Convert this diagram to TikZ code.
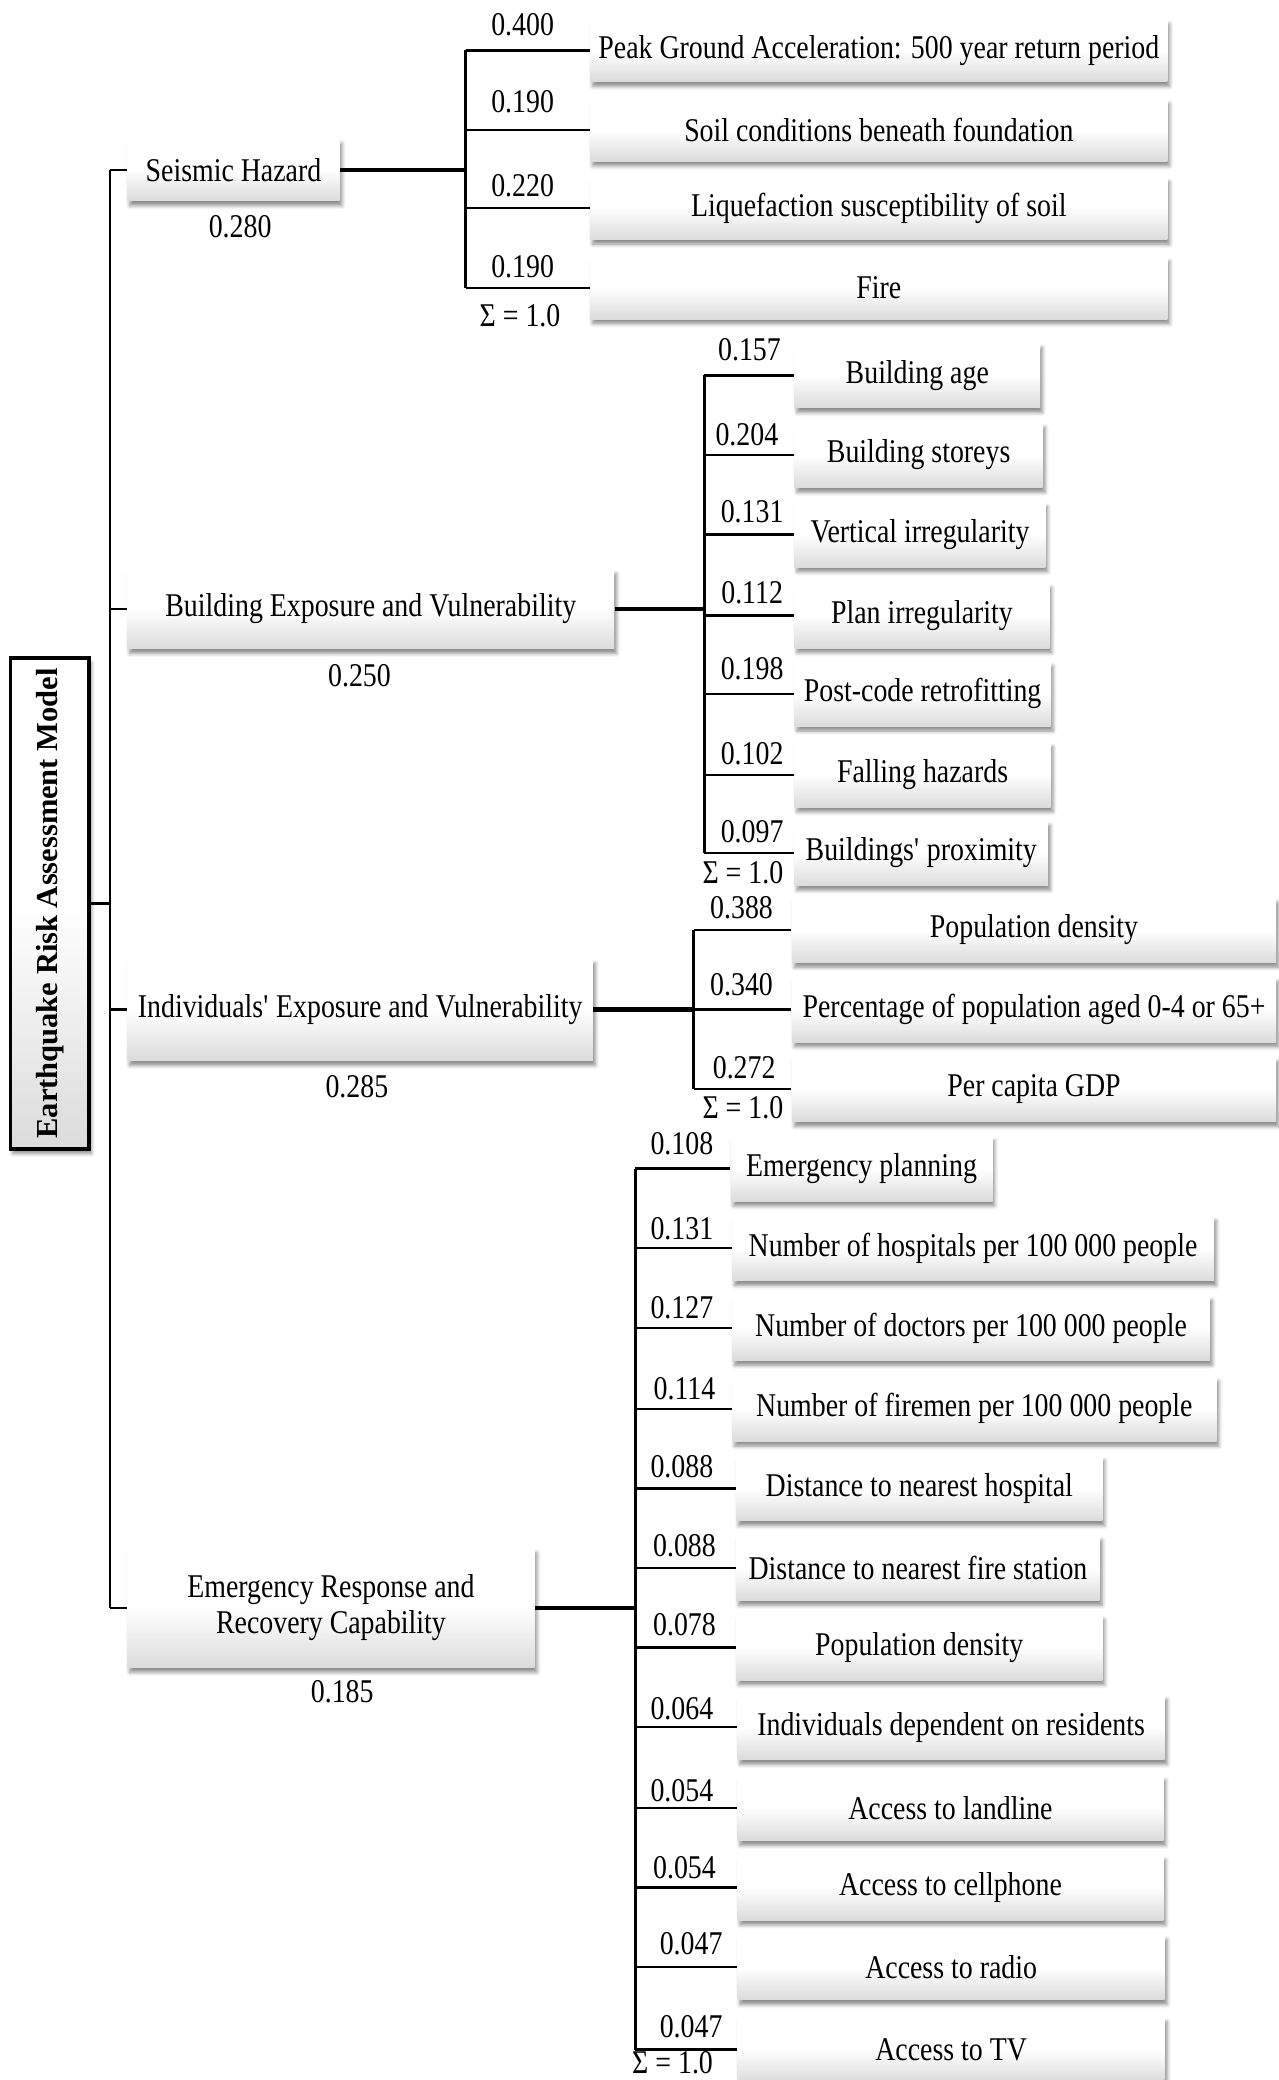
\documentclass[tikz,border=0pt]{standalone}
\usepackage{fontspec}
\setmainfont{Liberation Serif}[FakeStretch=0.84]
\newfontfamily\titlefont{Liberation Serif}
\usetikzlibrary{shadows.blur}
\newcommand\txt{\fontsize{12.5}{13.5}\selectfont}
% name, left x, centre y, right x, height, text
\newcommand\critbox[6]{%
  \node[box,minimum width={(#4-#2)*0.5pt},minimum height={#5*0.5pt}] (#1) at ({(#2+#4)/2},#3) {#6};}
\begin{document}
\begin{tikzpicture}[x=0.5pt,y=-0.5pt,
  box/.style={blur shadow={shadow xshift=0.9pt,shadow yshift=-1.8pt,shadow blur radius=1.4pt,shadow opacity=45},
    top color=white,bottom color=black!14,middle color=white,inner sep=0pt,font=\txt,align=center},
  titlebox/.style={box,draw=black,line width=1.4pt},
  wt/.style={font=\txt,inner sep=0pt},
  thinline/.style={line width=0.9pt},
  vline/.style={line width=1.1pt},
  mainline/.style={line width=1.6pt}]
\useasboundingbox (0,0) rectangle (964,1568);

% model title
\node[titlebox,minimum width=29.5pt,minimum height=185pt] (title) at (37.5,681)
  {\rotatebox{90}{\titlefont\fontsize{11.5}{12}\selectfont\bfseries Earthquake Risk Assessment Model}};

% criteria
\critbox{seis}{96}{128}{256}{47}{Seismic Hazard}
\critbox{build}{96}{459}{463}{60}{Building Exposure and Vulnerability}
\critbox{indiv}{96}{761}{447}{77}{Individuals\textquotesingle{} Exposure and Vulnerability}
\critbox{emer}{96}{1212}{403}{90}{Emergency Response and\\Recovery Capability}

\node[wt] (wseis) at (181,171) {0.280};
\node[wt] (wbuild) at (271,509) {0.250};
\node[wt] (windiv) at (269,819) {0.285};
\node[wt] (wemer) at (258,1275) {0.185};

% seismic hazard sub-criteria
\critbox{pga}{445}{38}{880}{47}{Peak Ground Acceleration: 500 year return period}
\critbox{soil}{445}{98}{880}{47}{Soil conditions beneath foundation}
\critbox{liq}{445}{157}{880}{47}{Liquefaction susceptibility of soil}
\critbox{fire}{445}{217}{880}{47}{Fire}

% building sub-criteria
\critbox{age}{599}{283}{784}{49}{Building age}
\critbox{storey}{599}{343}{786}{49}{Building storeys}
\critbox{vert}{599}{403}{788}{49}{Vertical irregularity}
\critbox{plan}{599}{464}{791}{49}{Plan irregularity}
\critbox{retro}{599}{523}{792}{49}{Post-code retrofitting}
\critbox{fall}{599}{584}{792}{49}{Falling hazards}
\critbox{prox}{599}{643}{790}{49}{Buildings\textquotesingle{} proximity}

% individuals sub-criteria
\critbox{pden}{597}{701}{962}{49}{Population density}
\critbox{aged}{597}{761}{962}{49}{Percentage of population aged 0-4 or 65+}
\critbox{gdp}{597}{821}{962}{49}{Per capita GDP}

% emergency sub-criteria
\critbox{eplan}{551}{881}{748}{49}{Emergency planning}
\critbox{hosp}{552}{941}{915}{49}{Number of hospitals per 100 000 people}
\critbox{doct}{552}{1001}{912}{49}{Number of doctors per 100 000 people}
\critbox{firem}{552}{1062}{917}{49}{Number of firemen per 100 000 people}
\critbox{dhosp}{555}{1122}{831}{49}{Distance to nearest hospital}
\critbox{dfire}{555}{1182}{829}{49}{Distance to nearest fire station}
\critbox{eden}{555}{1242}{831}{49}{Population density}
\critbox{dep}{556}{1302}{878}{49}{Individuals dependent on residents}
\critbox{land}{556}{1363}{877}{49}{Access to landline}
\critbox{cell}{556}{1423}{877}{49}{Access to cellphone}
\critbox{radio}{556}{1483}{878}{49}{Access to radio}
\critbox{tv}{556}{1545}{878}{49}{Access to TV}

% junction points
\coordinate (trunk) at (83,681);
\coordinate (g1) at (351,128);
\coordinate (g2) at (531,459);
\coordinate (g3) at (523,761);
\coordinate (g4) at (479,1212);

% main tree
\draw[thinline] (title.east) -- (trunk);
\draw[thinline] (trunk |- seis.west) -- (trunk |- emer.west);
\foreach \n in {seis,build,indiv,emer}
  \draw[thinline] (trunk |- \n.west) -- (\n.west);

% branches to the sub-criteria
\foreach \p/\g/\a/\b/\list in {seis/g1/pga/fire/{pga,soil,liq,fire},
    build/g2/age/prox/{age,storey,vert,plan,retro,fall,prox},
    indiv/g3/pden/gdp/{pden,aged,gdp},
    emer/g4/eplan/tv/{eplan,hosp,doct,firem,dhosp,dfire,eden,dep,land,cell,radio,tv}} {
  \draw[mainline] (\p.east) -- (\g);
  \draw[vline] (\g |- \a.west) -- (\g |- \b.west);
  \foreach \c in \list
    \draw[thinline] (\g |- \c.west) -- (\c.west);
}

% local weights
\foreach \v/\x/\y in {0.400/394/19,0.190/394/77,0.220/394/140,0.190/394/201,
    0.157/565/264,0.204/563/328,0.131/567/386,0.112/567/447,0.198/567/504,0.102/567/568,0.097/567/627,
    0.388/559/684,0.340/559/742,0.272/561/805,
    0.108/514/862,0.131/514/926,0.127/514/986,0.114/516/1047,0.088/514/1106,0.088/516/1165,
    0.078/516/1225,0.064/514/1288,0.054/514/1350,0.054/516/1408,0.047/521/1465,0.047/521/1528}
  \node[wt] at (\x,\y) {\v};

% sums
\node[wt] (s1) at (392,238) {Σ = 1.0};
\node[wt] (s2) at (560,658) {Σ = 1.0};
\node[wt] (s3) at (560,835) {Σ = 1.0};
\node[wt] (s4) at (507,1555) {Σ = 1.0};
\end{tikzpicture}
\end{document}
